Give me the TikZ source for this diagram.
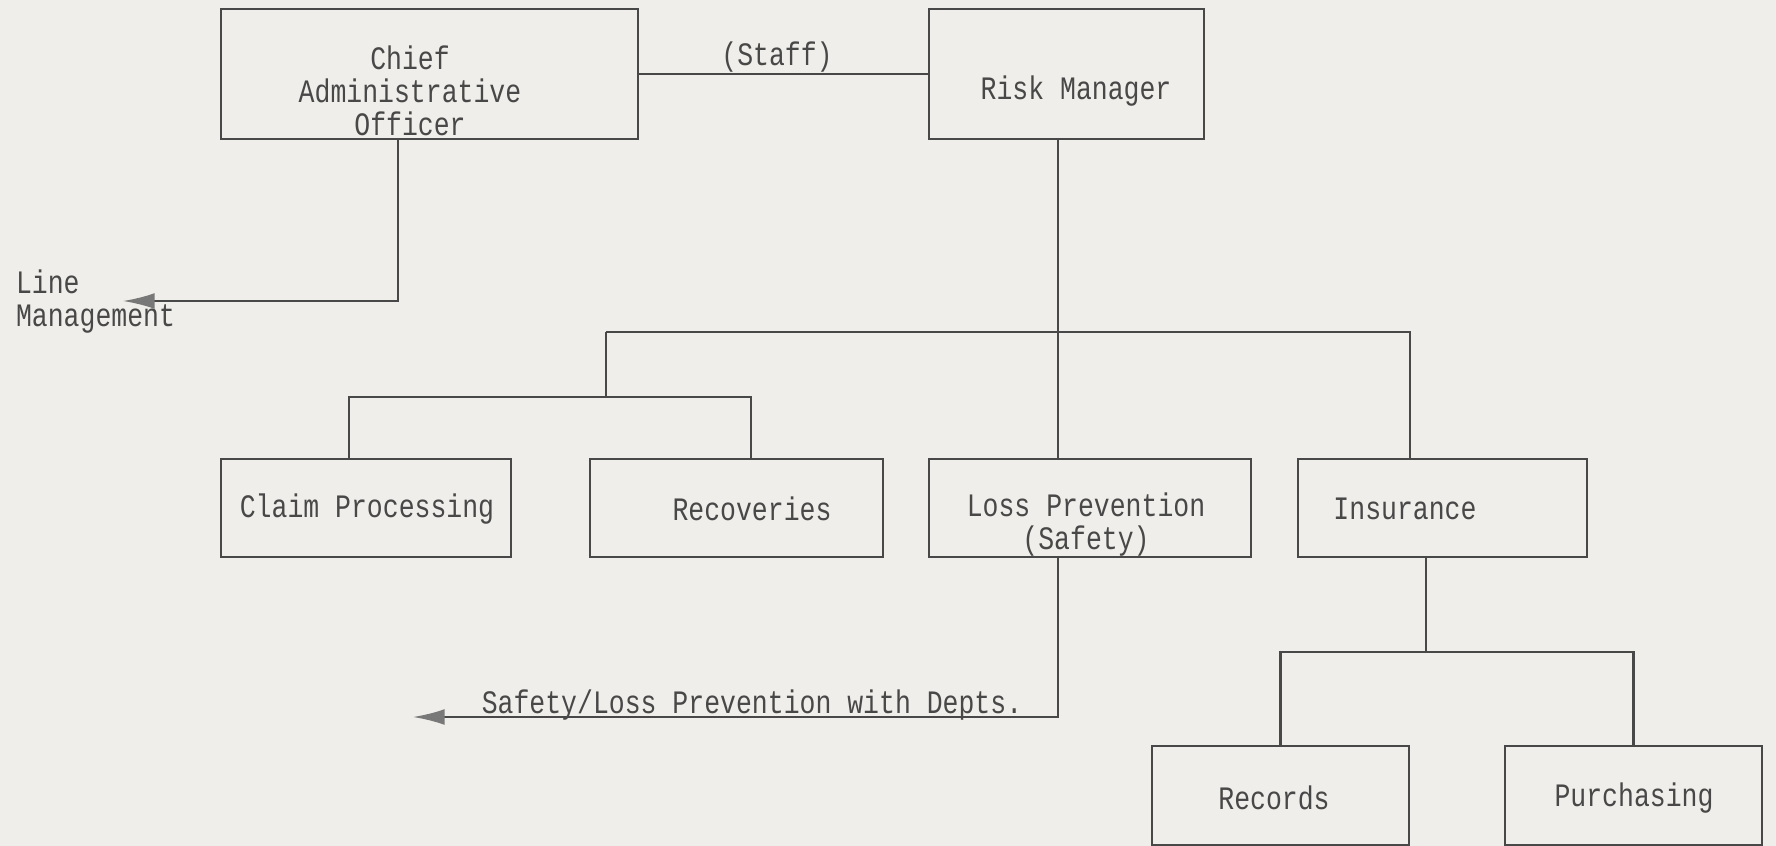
\documentclass[tikz,border=0pt]{standalone}
\usepackage{fontspec}
\usetikzlibrary{arrows.meta}
\newfontfamily\typewriter[FakeStretch=0.81]{Liberation Mono}
\definecolor{paper}{RGB}{240,238,234}
\definecolor{ink}{RGB}{72,72,72}
\definecolor{tipgray}{RGB}{120,120,120}

\tikzset{
	box/.style 2 args={draw=ink, line width=0.6pt, minimum width=#1, minimum height=#2, inner sep=0pt},
	txt/.style={text=ink, font=\typewriter\fontsize{9.3}{9.4}\selectfont, inner sep=0pt, align=center},
}

\begin{document}
\begin{tikzpicture}[x=0.01cm, y=-0.01cm, color=ink, line width=0.6pt, >={Latex[length=9pt,width=4.5pt,color=tipgray]}]
			\useasboundingbox (0,0) rectangle (1776,846);
			\fill[paper] (0,0) rectangle (1776,846);

			% boxes
			\node[box={4.17cm}{1.30cm}] (cao) at (429.5,74) {};
			\node[box={2.75cm}{1.30cm}] (rm) at (1066.5,74) {};

			\node[box={2.90cm}{0.98cm}] (claim) at (366,508) {};
			\node[box={2.93cm}{0.98cm}] (rec) at (736.5,508) {};
			\node[box={3.22cm}{0.98cm}] (lp) at (1090,508) {};
			\node[box={2.89cm}{0.98cm}] (ins) at (1442.5,508) {};

			\node[box={2.57cm}{0.99cm}] (records) at (1280.5,795.5) {};
			\node[box={2.57cm}{0.99cm}] (purch) at (1633.5,795.5) {};

			% texts
			\node[txt] (caot) at (410,91) {Chief\\Administrative\\Officer};
			\node[txt] (rmt) at (1076,91) {Risk Manager};
			\node[txt] (claimt) at (367,509) {Claim Processing};
			\node[txt] (rect) at (752,509) {Recoveries};
			\node[txt] (lpt) at (1086,525) {Loss Prevention\\(Safety)};
			\node[txt] (inst) at (1405,509) {Insurance};
			\node[txt] (recordst) at (1274,798) {Records};
			\node[txt] (purcht) at (1634,798) {Purchasing};

			\node[txt] (staff) at (777,57) {(Staff)};
			\node[txt, anchor=west, align=left] (line) at (15,302) {Line\\Management};
			\node[txt] (depts) at (752,705) {Safety/Loss Prevention with Depts.};

			% connectors
			\coordinate (c1) at (398,301);
			\coordinate (lm) at (123,301);
			\coordinate (rmx) at (1058,332);
			\coordinate (t1) at (606,332);
			\coordinate (t2) at (1410,332);
			\coordinate (s0) at (606,397);
			\coordinate (s1) at (349,397);
			\coordinate (s2) at (751,397);
			\coordinate (sl) at (413,717);
			\coordinate (b0) at (1426,652);

			\draw (cao) -- (rm);
			\draw[->] (c1 |- cao.south) -- (c1) -- (lm);

			\draw (rmx |- rm.south) -- (rmx |- lp.north);
			\draw (t1) -- (t2) -- (t2 |- ins.north);
			\draw (t1) -- (s0);
			\draw (s1 |- claim.north) -- (s1) -- (s2) -- (s2 |- rec.north);

			\draw[->] (rmx |- lp.south) |- (sl);

			\draw (b0 |- ins.south) -- (b0);
			\draw (records.north) |- (b0) -| (purch.north);
		\end{tikzpicture}
\end{document}
